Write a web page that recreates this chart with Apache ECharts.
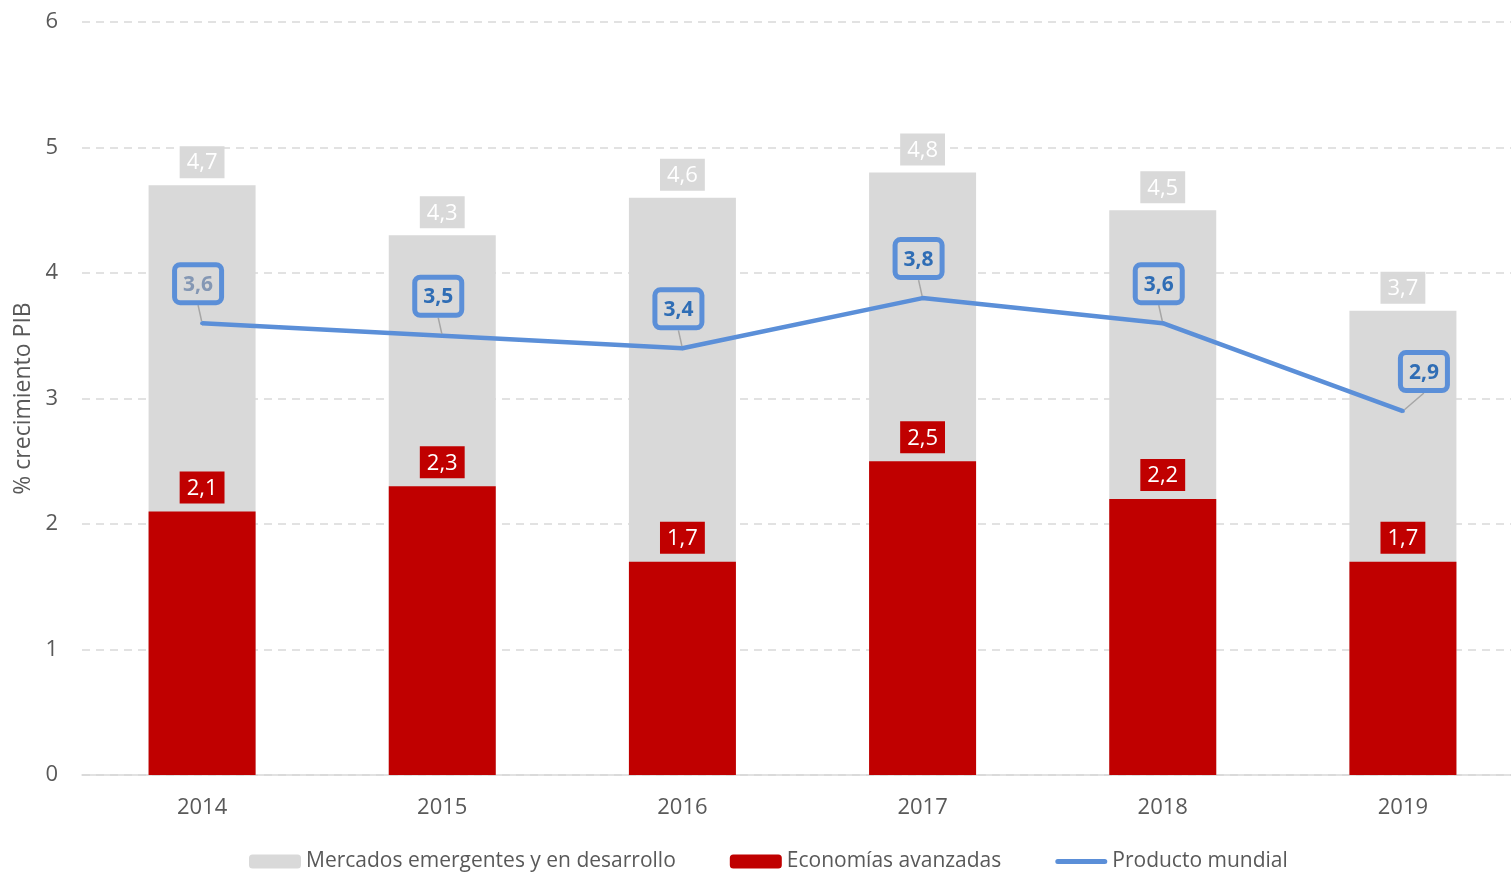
<!DOCTYPE html>
<html>
<head>
<meta charset="utf-8">
<script src="https://cdn.jsdelivr.net/npm/echarts@6/dist/echarts.min.js"></script>
<style>
  html, body { margin: 0; padding: 0; background: #fff; }
  #chart { width: 1511px; height: 872px; }
</style>
</head>
<body>
<div id="chart"></div>
<script>
// datos
const years = ['2014', '2015', '2016', '2017', '2018', '2019'];
const emergentes = [4.7, 4.3, 4.6, 4.8, 4.5, 3.7];
const avanzadas = [2.1, 2.3, 1.7, 2.5, 2.2, 1.7];
const mundial = [3.6, 3.5, 3.4, 3.8, 3.6, 2.9];
const yTicks = [0, 1, 2, 3, 4, 5, 6];

const FONT = 'Open Sans';
const BLUE = '#5b8fd8';
const GRIS = '#d9d9d9';
const coma = (p) => String(p.value).replace('.', ',');
// icono de linea con extremos redondeados para la leyenda (caja 52x14)
const lineIcon = 'path://M0,0L0.01,0M2.5,4.5L49.5,4.5A2.5,2.5,0,0,1,49.5,9.5L2.5,9.5A2.5,2.5,0,0,1,2.5,4.5ZM51.99,14L52,14';

const chart = echarts.init(document.getElementById('chart'), null, { renderer: 'canvas' });

const option = {
  animation: false,
  textStyle: { fontFamily: FONT },
  grid: { left: 82, top: 22, bottom: 97, width: 1441, outerBoundsMode: 'none', containLabel: false },
  legend: {
    top: 846,
    left: 244,
    itemWidth: 52,
    itemHeight: 14,
    itemGap: 54,
    textStyle: { color: '#595959', fontSize: 21, fontFamily: FONT },
    data: [
      'Mercados emergentes y en desarrollo',
      'Economías avanzadas',
      { name: 'Producto mundial', icon: lineIcon, itemStyle: { color: BLUE } }
    ]
  },
  xAxis: {
    type: 'category',
    data: years,
    axisTick: { show: false },
    axisLine: { lineStyle: { color: GRIS, width: 1.5 } },
    axisLabel: { color: '#595959', fontSize: 22, margin: 22, fontFamily: FONT }
  },
  yAxis: {
    type: 'value',
    min: yTicks[0],
    max: yTicks[yTicks.length - 1],
    interval: 1,
    name: '% crecimiento PIB',
    nameLocation: 'middle',
    nameGap: 46,
    nameTextStyle: { color: '#595959', fontSize: 23, fontFamily: FONT },
    axisLine: { show: false },
    axisTick: { show: false },
    axisLabel: { color: '#595959', fontSize: 22, margin: 24, fontFamily: FONT },
    splitLine: { lineStyle: { color: GRIS, type: [8, 6], width: 1.5 } }
  },
  series: [
    {
      name: 'Mercados emergentes y en desarrollo',
      type: 'bar',
      data: emergentes,
      barWidth: 107,
      barGap: '-100%',
      itemStyle: { color: GRIS },
      label: {
        show: true,
        position: 'top',
        distance: 7,
        formatter: coma,
        color: '#fff',
        fontSize: 22,
        backgroundColor: GRIS,
        padding: [6, 7, 4, 7]
      }
    },
    {
      name: 'Economías avanzadas',
      type: 'bar',
      data: avanzadas,
      barWidth: 107,
      barGap: '-100%',
      itemStyle: { color: '#c00000' },
      label: {
        show: true,
        position: 'top',
        distance: 8,
        formatter: coma,
        color: '#fff',
        fontSize: 22,
        backgroundColor: '#c00000',
        padding: [6, 7, 4, 7]
      }
    },
    {
      name: 'Producto mundial',
      type: 'line',
      data: mundial.map((v, i) => i === 0 ? { value: v, label: { color: '#8497b4' } } : v),
      symbol: 'circle',
      symbolSize: 4,
      showSymbol: true,
      lineStyle: { color: BLUE, width: 4.5 },
      itemStyle: { color: BLUE },
      label: {
        show: true,
        position: 'top',
        distance: 21,
        formatter: coma,
        color: '#2f6db5',
        fontWeight: 'bold',
        fontSize: 21,
        backgroundColor: GRIS,
        borderColor: BLUE,
        borderWidth: 5,
        borderRadius: 3,
        padding: [7, 6, 5, 6]
      },
      labelLine: { show: true, lineStyle: { color: '#a6a6a6', width: 1.5 } },
      labelLayout: (p) => ({ dx: p.dataIndex === 5 ? 21 : -4 })
    }
  ]
};

chart.setOption(option);
</script>
</body>
</html>
